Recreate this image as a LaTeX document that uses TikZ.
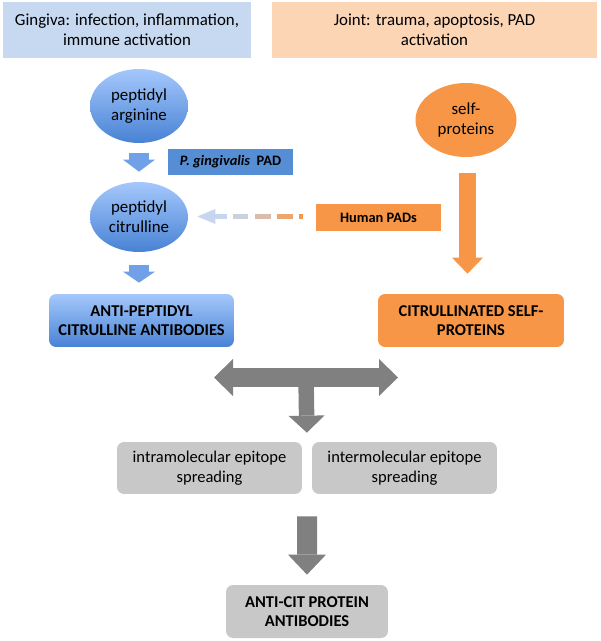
\documentclass[tikz,border=0pt]{standalone}
\usepackage{fontspec}
\setmainfont{Carlito}
\usepackage{tikz}
\usetikzlibrary{calc,shapes.geometric,arrows.meta}
\definecolor{HeadBlue}{RGB}{198,217,241}
\definecolor{HeadOrange}{RGB}{252,213,181}
\definecolor{CitOrange}{RGB}{247,150,70}
\definecolor{PadBlue}{RGB}{85,142,213}
\definecolor{LightBlue}{RGB}{165,200,252}
\definecolor{DarkBlue}{RGB}{72,130,212}
\definecolor{MidBlue}{RGB}{112,160,232}
\definecolor{FadeBlue}{RGB}{198,214,240}
\definecolor{ArrowGray}{RGB}{128,128,128}
\definecolor{BoxGray}{RGB}{200,200,200}

\tikzset{
  header/.style={fill=#1, minimum height=1.12cm, inner sep=0pt, align=center,
    font=\fontsize{9.6}{11.4}\selectfont},
  blob/.style={ellipse, minimum width=1.96cm, inner sep=0pt, align=center,
    font=\fontsize{9.6}{11.4}\selectfont},
  tag/.style={fill=#1, minimum width=2.5cm, minimum height=0.53cm, inner sep=0pt,
    font=\bfseries\fontsize{8.2}{10}\selectfont},
  result/.style={rounded corners=0.14cm, minimum width=3.7cm, minimum height=1.06cm,
    inner sep=0pt, align=center, font=\bfseries\fontsize{9.4}{10.9}\selectfont},
  spread/.style={fill=BoxGray, rounded corners=0.14cm, minimum width=3.7cm,
    minimum height=1.04cm, inner sep=0pt, align=center,
    font=\fontsize{9.4}{11.3}\selectfont},
  fat/.style args={#1/#2/#3}{line width=#1,
    -{Triangle[length=#2, width=#3, line width=0pt]}},
}

\begin{document}
\begin{tikzpicture}[x=0.02cm, y=-0.02cm]
        \useasboundingbox (0,0) rectangle (600,641);

        % Headers
        \node[header=HeadBlue, minimum width=4.96cm] (gingiva) at (127,30)
            {Gingiva: infection, inflammation,\\immune activation};
        \node[header=HeadOrange, minimum width=6.5cm] (joint) at (434.5,30)
            {Joint: trauma, apoptosis, PAD\\activation};

        % Gingiva side
        \node[blob, minimum height=1.48cm, top color=LightBlue, bottom color=DarkBlue] (arg) at (139,106)
            {peptidyl\\arginine};
        \node[blob, minimum height=1.4cm, top color=LightBlue, bottom color=DarkBlue] (cit) at (139,217)
            {peptidyl\\citrulline};
        \node[tag=PadBlue, minimum height=0.52cm] (pgpad) at (230.5,162)
            {\itshape P. gingivalis\ \ \upshape PAD};
        \node[result, top color=LightBlue, bottom color=DarkBlue] (abox) at (141.5,320.5)
            {ANTI-PEPTIDYL\\CITRULLINE ANTIBODIES};

        % Joint side
        \node[blob, minimum width=2.02cm, minimum height=1.48cm, fill=CitOrange] (self) at (466,120)
            {self-\\proteins};
        \node[tag=CitOrange, minimum height=0.54cm] (hpad) at (378.5,217.5) {Human PADs};
        \node[result, fill=CitOrange, minimum width=3.72cm] (cbox) at (471,320.5)
            {CITRULLINATED SELF-\\PROTEINS};

        % Spreading
        \node[spread] (intra) at (209.5,468) {intramolecular epitope\\spreading};
        \node[spread] (inter) at (404.5,468) {intermolecular epitope\\spreading};
        \node[result, fill=BoxGray, minimum width=3.24cm] (final) at (307,611.5)
            {ANTI-CIT PROTEIN\\ANTIBODIES};

        % Block arrows
        \draw[fat=0.4cm/0.24cm/0.64cm, MidBlue, shorten <=0.2cm, shorten >=0.2cm]
            (arg.south) -- (cit.north);
        \draw[fat=0.4cm/0.22cm/0.64cm, MidBlue, shorten <=0.26cm, shorten >=0.22cm]
            (cit.south) -- (cit.south |- abox.north);
        \draw[fat=0.34cm/0.32cm/0.62cm, CitOrange, shorten <=0.32cm, shorten >=0.4cm]
            ($(self.south)+(1.5,0)$) -- ($(self.south |- cbox.north)+(1.5,0)$);

        % Human PADs acting on citrulline
        \foreach \a/\b/\c in {13/17/100, 23/39/75, 45/61/40, 68/83/10}
            \draw[line width=0.1cm, CitOrange!\c!FadeBlue] ($(hpad.west)+(-\a,-1)$) -- ($(hpad.west)+(-\b,-1)$);
        \draw[fat=0.1cm/0.36cm/0.3cm, FadeBlue, shorten >=0.18cm]
            ($(hpad.west)+(-89,-1)$) -- (cit.east |- {$(hpad.west)+(0,-1)$});

        % T-junction
        \coordinate (hub) at (306,377.5);
        \draw[line width=0.38cm, ArrowGray,
            {Triangle[length=0.38cm, width=0.74cm, line width=0pt]}-{Triangle[length=0.38cm, width=0.74cm, line width=0pt]}]
            ($(hub)+(-92,0)$) -- ($(hub)+(92,0)$);
        \draw[fat=0.31cm/0.34cm/0.72cm, ArrowGray, shorten >=0.18cm]
            (hub) -- ($(intra.north east)!0.5!(inter.north west)$);
        \draw[fat=0.4cm/0.4cm/0.76cm, ArrowGray, shorten <=0.44cm, shorten >=0.2cm]
            ($(intra.south east)!0.5!(inter.south west)$) -- (final.north);
    \end{tikzpicture}
\end{document}
